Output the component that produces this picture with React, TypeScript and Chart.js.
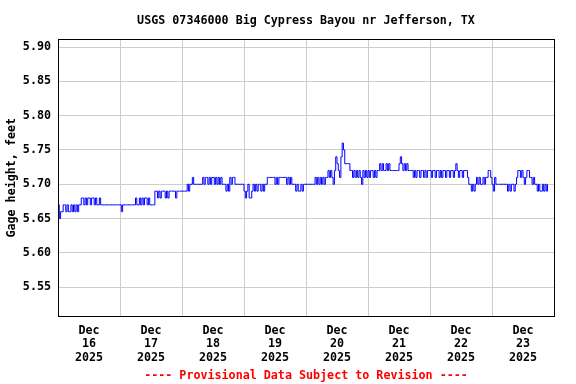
import React, { useEffect, useRef } from "react";
import { Chart, registerables } from "chart.js";

Chart.register(...registerables);

const TITLE = "USGS 07346000 Big Cypress Bayou nr Jefferson, TX";
const FOOTER = "---- Provisional Data Subject to Revision ----";
const Y_TITLE = "Gage height, feet";
const MONTH = "Dec";
const YEAR = "2025";
const DAY_LABELS = ["16", "17", "18", "19", "20", "21", "22", "23"];
const X_TICK_HOURS = [0, 12, 24, 36, 48, 60, 72, 84, 96, 108, 120, 132, 144, 156, 168, 180, 192];
const Y_TICKS = [5.55, 5.6, 5.65, 5.7, 5.75, 5.8, 5.85, 5.9];
const Y_MIN = 5.508;
const Y_MAX = 5.911;
const STEP_HOURS = 0.5;

// half-hourly gage height, feet
const dec16 = [5.67,5.65,5.66,5.66,5.67,5.67,5.66,5.67, 5.66,5.66,5.67,5.66,5.67,5.66,5.67,5.66, 5.67,5.67,5.68,5.68,5.67,5.68,5.67,5.68, 5.68,5.67,5.68,5.68,5.67,5.68,5.67,5.67, 5.68,5.67,5.67,5.67,5.67,5.67,5.67,5.67, 5.67,5.67,5.67,5.67,5.67,5.67,5.67,5.67];
const dec17 = [5.67,5.66,5.67,5.67,5.67,5.67,5.67,5.67, 5.67,5.67,5.67,5.67,5.68,5.67,5.67,5.68, 5.67,5.68,5.67,5.68,5.68,5.67,5.68,5.67, 5.67,5.67,5.67,5.69,5.69,5.68,5.69,5.68, 5.69,5.69,5.69,5.68,5.69,5.68,5.69,5.69, 5.69,5.69,5.69,5.68,5.69,5.69,5.69,5.69];
const dec18 = [5.69,5.69,5.69,5.69,5.70,5.69,5.70,5.70, 5.71,5.70,5.70,5.70,5.70,5.70,5.70,5.70, 5.71,5.70,5.71,5.71,5.70,5.71,5.70,5.71, 5.71,5.70,5.71,5.70,5.71,5.70,5.71,5.70, 5.70,5.70,5.69,5.70,5.69,5.71,5.70,5.71, 5.71,5.70,5.70,5.70,5.70,5.70,5.70,5.70];
const dec19 = [5.69,5.68,5.69,5.70,5.68,5.68,5.69,5.70, 5.69,5.70,5.69,5.70,5.70,5.69,5.70,5.69, 5.70,5.70,5.71,5.71,5.71,5.71,5.71,5.71, 5.70,5.71,5.70,5.71,5.71,5.71,5.71,5.71, 5.71,5.70,5.71,5.70,5.71,5.70,5.70,5.70, 5.69,5.70,5.69,5.69,5.70,5.69,5.70,5.70];
const dec20 = [5.70,5.70,5.70,5.70,5.70,5.70,5.70,5.71, 5.70,5.71,5.70,5.71,5.70,5.71,5.70,5.71, 5.71,5.72,5.71,5.72,5.71,5.70,5.72,5.74, 5.73,5.72,5.71,5.74,5.76,5.75,5.73,5.73, 5.73,5.73,5.72,5.72,5.71,5.72,5.71,5.72, 5.71,5.72,5.71,5.70,5.72,5.71,5.72,5.71];
const dec21 = [5.72,5.71,5.72,5.72,5.71,5.72,5.71,5.72, 5.72,5.73,5.72,5.73,5.72,5.72,5.73,5.72, 5.73,5.72,5.72,5.72,5.72,5.72,5.72,5.72, 5.73,5.74,5.73,5.72,5.73,5.72,5.73,5.72, 5.72,5.72,5.72,5.71,5.72,5.71,5.72,5.72, 5.71,5.72,5.72,5.71,5.72,5.71,5.72,5.72];
const dec22 = [5.72,5.71,5.72,5.72,5.71,5.72,5.72,5.71, 5.72,5.71,5.72,5.72,5.71,5.72,5.72,5.71, 5.72,5.72,5.71,5.72,5.73,5.72,5.71,5.72, 5.72,5.71,5.72,5.72,5.72,5.71,5.70,5.70, 5.69,5.70,5.69,5.70,5.71,5.70,5.71,5.70, 5.70,5.71,5.70,5.71,5.71,5.72,5.72,5.71];
const dec23 = [5.70,5.69,5.71,5.70,5.70,5.70,5.70,5.70, 5.70,5.70,5.70,5.70,5.69,5.70,5.69,5.70, 5.70,5.69,5.70,5.71,5.72,5.72,5.71,5.72, 5.71,5.70,5.71,5.72,5.72,5.71,5.71,5.70, 5.71,5.70,5.70,5.69,5.70,5.69,5.69,5.70, 5.69,5.70,5.69,5.70];

const DAYS = [dec16, dec17, dec18, dec19, dec20, dec21, dec22, dec23];

const FONT_FAMILY = "'DejaVu Sans Mono', 'Liberation Mono', monospace";

const framePlugin = {
  id: "frame",
  afterDatasetsDraw(chart: any) {
    const { ctx, chartArea } = chart;
    const l = Math.floor(chartArea.left) + 0.5;
    const t = Math.floor(chartArea.top) + 0.5;
    const r = Math.floor(chartArea.right) + 0.5;
    const b = Math.floor(chartArea.bottom) + 0.5;
    ctx.save();
    ctx.strokeStyle = "#000000";
    ctx.lineWidth = 1;
    ctx.strokeRect(l, t, r - l, b - t);
    ctx.restore();
  },
};

export default function App() {
  const ref = useRef<HTMLCanvasElement>(null);

  useEffect(() => {
    document.body.style.margin = "0";
    const points: { x: number; y: number }[] = [];
    DAYS.forEach((vals, d) => {
      vals.forEach((v, i) => {
        points.push({ x: d * 24 + i * STEP_HOURS, y: v });
      });
    });

    const font = { family: FONT_FAMILY, size: 11.7, weight: "bold" as const, lineHeight: 1.2 };

    const chart = new Chart(ref.current as HTMLCanvasElement, {
      type: "line",
      data: {
        datasets: [
          {
            data: points,
            borderColor: "#0000ff",
            borderWidth: 1,
            pointRadius: 0,
            stepped: true,
            fill: false,
            tension: 0,
          },
        ],
      },
      options: {
        responsive: false,
        animation: false,
        devicePixelRatio: 1,
        layout: { padding: { left: 0, right: 22, top: 0, bottom: 0 } },
        plugins: {
          legend: { display: false },
          tooltip: { enabled: false },
          title: {
            display: true,
            text: TITLE,
            fullSize: false,
            color: "#000000",
            font,
            padding: { top: 14, bottom: 11.46 },
          },
          subtitle: {
            display: true,
            text: FOOTER,
            position: "bottom",
            fullSize: false,
            color: "#ff0000",
            font,
            padding: { top: 2, bottom: 1 },
          },
        },
        scales: {
          x: {
            type: "linear",
            min: 0,
            max: 192,
            afterBuildTicks: (scale: any) => {
              scale.ticks = X_TICK_HOURS.map((v) => ({ value: v }));
            },
            afterFit: (scale: any) => {
              scale.height = 50.96;
            },
            border: { display: false },
            grid: {
              drawTicks: false,
              color: (ctx: any) =>
                ctx.tick && ctx.tick.value % 24 === 0 ? "#cccccc" : "rgba(0,0,0,0)",
              lineWidth: 1,
            },
            ticks: {
              autoSkip: false,
              maxRotation: 0,
              minRotation: 0,
              padding: 8.35,
              color: "#000000",
              font: { family: FONT_FAMILY, size: 11.7, weight: "bold", lineHeight: "13.3px" },
              callback: (value: any) => {
                const v = Number(value);
                if (v % 24 !== 12) return "";
                const idx = (v - 12) / 24;
                return [MONTH, DAY_LABELS[idx], YEAR];
              },
            },
          },
          y: {
            type: "linear",
            min: Y_MIN,
            max: Y_MAX,
            afterBuildTicks: (scale: any) => {
              scale.ticks = Y_TICKS.map((v) => ({ value: v }));
            },
            afterFit: (scale: any) => {
              scale.width = 58;
            },
            border: { display: false },
            grid: { drawTicks: false, color: "#cccccc", lineWidth: 1 },
            title: {
              display: true,
              text: Y_TITLE,
              color: "#000000",
              font,
              padding: { top: 4.5, bottom: 0 },
            },
            ticks: {
              padding: 7,
              color: "#000000",
              font,
              callback: (value: any) => Number(value).toFixed(2),
            },
          },
        },
      },
      plugins: [framePlugin],
    } as any);

    return () => chart.destroy();
  }, []);

  return (
    <div style={{ width: 576, height: 384 }}>
      <canvas ref={ref} width={576} height={384} style={{ display: "block", width: 576, height: 384 }} />
    </div>
  );
}
